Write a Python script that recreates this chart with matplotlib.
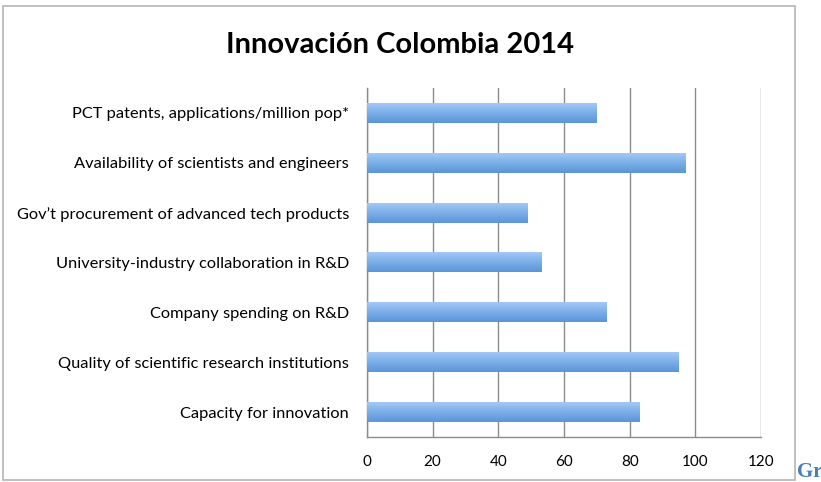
import matplotlib
matplotlib.use("Agg")
import matplotlib.pyplot as plt
import numpy as np
from matplotlib.patches import Rectangle
from matplotlib.colors import LinearSegmentedColormap

categories = [
    "Capacity for innovation",
    "Quality of scientific research institutions",
    "Company spending on R&D",
    "University-industry collaboration in R&D",
    "Gov\u2019t procurement of advanced tech products",
    "Availability of scientists and engineers",
    "PCT patents, applications/million pop*",
]
values = [83, 95, 73, 53, 49, 97, 70]
xticks = [0, 20, 40, 60, 80, 100, 120]
title = "Innovaci\u00f3n Colombia 2014"

plt.rcParams['font.family'] = ['Lato', 'DejaVu Sans']

W, H = 821, 482
fig = plt.figure(figsize=(W / 100, H / 100), dpi=100)
ax = fig.add_axes([367 / W, 1 - 437 / H, (761 - 367) / W, (437 - 88) / H])

cmap = LinearSegmentedColormap.from_list("bar", ["#5b95d6", "#7aaee8", "#a3c8f4"])
grad = np.linspace(0, 1, 64).reshape(-1, 1)
bh = 0.4
ypos = np.arange(len(categories))
for y, v in zip(ypos, values):
    ax.imshow(grad, cmap=cmap, aspect='auto', origin='lower',
              extent=[0, v, y - bh / 2, y + bh / 2], zorder=3, interpolation='bicubic')

ax.set_xlim(0, 120)
ax.set_ylim(-0.5, len(categories) - 0.5)
ax.set_xticks(xticks)
ax.set_xticklabels([str(t) for t in xticks])
ax.set_yticks(ypos)
ax.set_yticklabels(categories, fontsize=11.8)
ax.tick_params(axis='both', length=0, colors='black')
ax.tick_params(axis='x', pad=13, labelsize=11)
ax.tick_params(axis='y', pad=13)
ax.xaxis.grid(True, color='#8c8c8c', linewidth=1.0)
ax.set_axisbelow(True)
for s in ['top', 'right']:
    ax.spines[s].set_visible(False)
for s in ['left', 'bottom']:
    ax.spines[s].set_color('#8c8c8c')
    ax.spines[s].set_linewidth(1.0)

fig.text(400 / W, 1 - 45 / H, title, ha='center', va='center',
         fontsize=21, fontweight='bold')

fig.patches.append(Rectangle((3 / W, 1 - 480 / H), 792 / W, 474 / H,
                             transform=fig.transFigure, fill=False,
                             edgecolor='#b5b5b5', linewidth=1.2))
fig.text(797 / W, 1 - 482 / H, "Gr", ha='left', va='bottom', fontsize=15,
         fontweight='bold', color='#4a7ebb', family=['Liberation Serif'])

fig.savefig("out.png", dpi=100)
